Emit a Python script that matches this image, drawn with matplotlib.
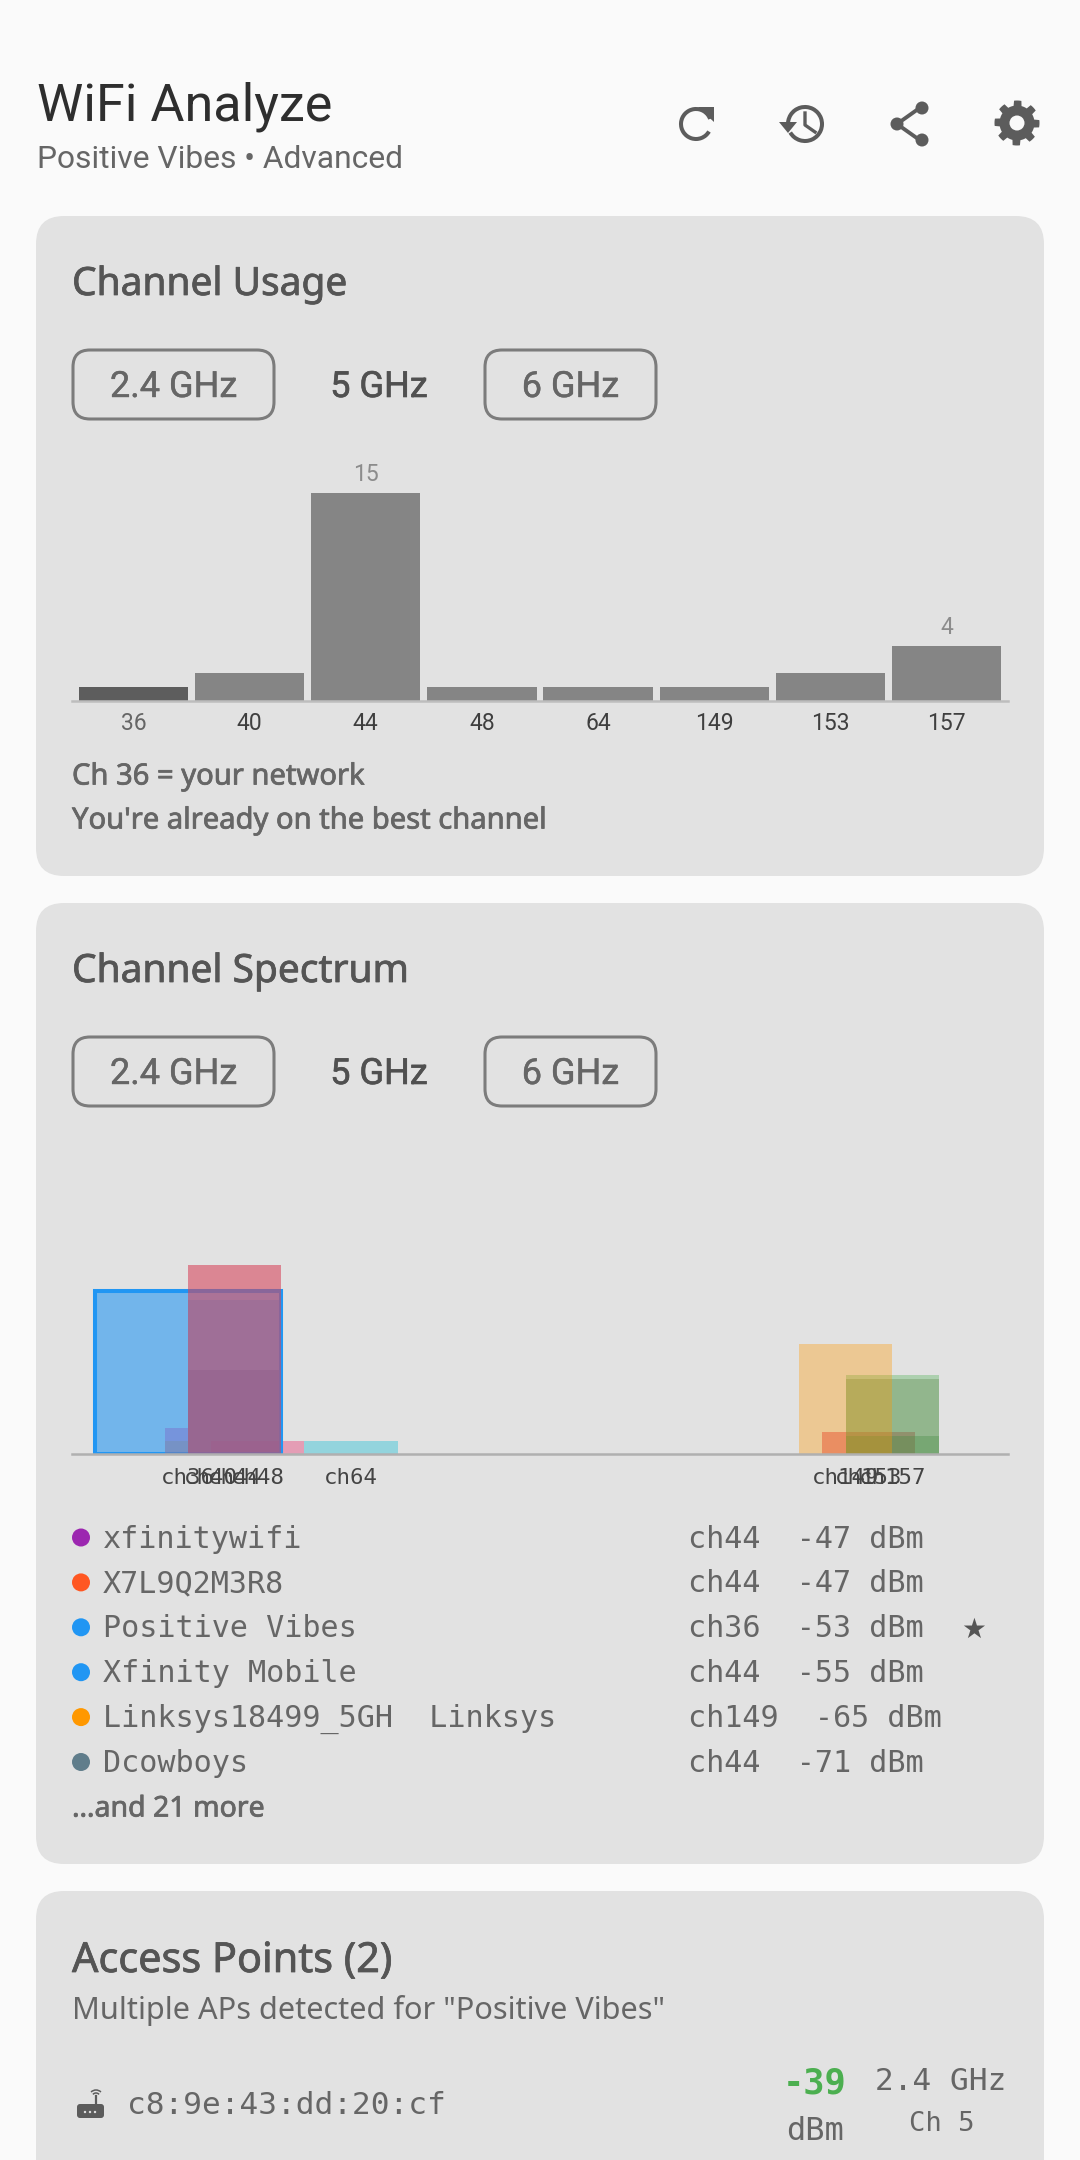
import numpy as np
import matplotlib
matplotlib.use("Agg")
import matplotlib.pyplot as plt
import matplotlib.patheffects as pe
from matplotlib.patches import FancyBboxPatch, Circle, Arc, Polygon

# usage chart
usage_channels = ["36", "40", "44", "48", "64", "149", "153", "157"]
usage_counts = [1, 2, 15, 1, 1, 1, 2, 4]

# spectrum chart, drawn in this order
spec_ticks = [36, 40, 44, 48, 64, 149, 153, 157]
spec_tick_labels = ["ch36", "ch40", "ch44", "ch48", "ch64", "ch149", "ch153", "ch157"]
spec_channel = [44, 44, 48, 64, 44, 36, 34, 34, 44, 44, 153, 157, 157, 157, 149]
spec_span = [16, 16, 16, 16, 16, 32, 4, 4, 16, 16, 16, 16, 16, 16, 16]
spec_dbm = [-71, -71, -87, -87, -55, -53, -84, -87, -47, -47, -85, -86, -73, -72, -65]
spec_colors = ["#607D8B", "#795548", "#E91E63", "#00BCD4", "#2196F3", "#2196F3", "#7E57C2", "#78909C",
               "#9C27B0", "#FF5722", "#E0405A", "#2E7D32", "#6B7451", "#4CAF50", "#FF9800"]
spec_alpha = [0.35, 0.25, 0.35, 0.35, 0.35, 0.58, 0.35, 0.35, 0.35, 0.35, 0.55, 0.35, 0.35, 0.35, 0.35]

# network list
ssids = ["xfinitywifi", "X7L9Q2M3R8", "Positive Vibes", "Xfinity Mobile", "Linksys18499_5GH  Linksys", "Dcowboys"]
ssid_channel = ["ch44", "ch44", "ch36", "ch44", "ch149", "ch44"]
ssid_signal = ["-47 dBm", "-47 dBm", "-53 dBm", "-55 dBm", "-65 dBm", "-71 dBm"]
ssid_dots = ["#9C27B0", "#FF5722", "#2196F3", "#2196F3", "#FF9800", "#607D8B"]

W, H = 1080, 2160
BG = "#FAFAFA"
CARD = "#E2E2E2"
SANS = "Roboto"
WIDE = "Noto Sans"
MONO = "DejaVu Sans Mono"
ICON = "#5C5C5C"


def add_axes_px(fig, left, top, right, bottom):
    return fig.add_axes([left / W, 1 - bottom / H, (right - left) / W, (bottom - top) / H])


def round_box(ax, x0, y0, x1, y1, radius, **kw):
    ax.add_patch(FancyBboxPatch((x0, y0), x1 - x0, y1 - y0,
                                boxstyle="round,pad=0,rounding_size=%d" % radius, **kw))


def heavy_text(ax, x, y, label, size, color="#555555", stroke=0.55, family=WIDE, **kw):
    #the fonts only come in regular here, a thin outline brings them to medium weight
    ax.text(x, y, label, fontsize=size, family=family, color=color,
            path_effects=[pe.withStroke(linewidth=stroke, foreground=color)], **kw)


def band_buttons(ax, top):
    #two outlined buttons and the selected one in the middle
    for x0, x1, label in [(73, 274, "2.4 GHz"), (485, 656, "6 GHz")]:
        round_box(ax, x0, top, x1, top + 69, 17, fc="none", ec="#7C7C7C", lw=2.2)
        heavy_text(ax, (x0 + x1) / 2, top + 37, label, 26, "#666666", 0.3, SANS, ha="center", va="center")
    heavy_text(ax, 379, top + 37, "5 GHz", 26, "#505050", 0.45, SANS, ha="center", va="center")


def draw_icons(ax):
    #refresh
    ax.add_patch(Arc((696, 124), 30, 30, theta1=-330, theta2=-20, ec=ICON, lw=2.9))
    ax.add_patch(Polygon([[698, 107], [714, 107], [714, 122]], fc=ICON, ec="none"))
    #history
    ax.add_patch(Arc((805, 124), 34, 34, theta1=-190, theta2=150, ec=ICON, lw=2.9))
    ax.add_patch(Polygon([[779, 122], [797, 122], [788, 133]], fc=ICON, ec="none"))
    ax.plot([805, 805, 815], [113, 125, 132], color=ICON, lw=2.4)
    #share
    ax.plot([921, 897, 921], [107, 124, 141], color=ICON, lw=2.8)
    for cx, cy in [(922, 108), (897, 124), (922, 140)]:
        ax.add_patch(Circle((cx, cy), 6.5, fc=ICON, ec="none"))
    #gear
    angle = np.linspace(0, 2 * np.pi, 96, endpoint=False)
    radius = np.where(np.cos(8 * angle) > 0, 22.5, 17.5)
    ax.add_patch(Polygon(np.column_stack([1017 + radius * np.cos(angle), 123 + radius * np.sin(angle)]),
                         fc=ICON, ec="none"))
    ax.add_patch(Circle((1017, 123), 7.5, fc=BG, ec="none"))


def draw_router(ax):
    round_box(ax, 77, 2104, 104, 2118, 3, fc=ICON, ec="none")
    for x in [85, 90, 95]:
        ax.add_patch(Circle((x, 2112), 1.2, fc=CARD, ec="none"))
    ax.plot([96, 96], [2096, 2104], color=ICON, lw=1.6)
    ax.add_patch(Arc((96, 2097), 8, 8, theta1=220, theta2=320, ec=ICON, lw=1.1))
    ax.add_patch(Arc((96, 2097), 14, 14, theta1=225, theta2=315, ec=ICON, lw=1.1))


def draw_usage(fig):
    ax = add_axes_px(fig, 72, 470, 1008, 701)
    ax.patch.set_alpha(0)
    x = np.arange(len(usage_counts))
    colors = ["#5D5D5D"] + ["#858585"] * (len(usage_counts) - 1)
    ax.bar(x, usage_counts, width=0.94, color=colors)
    ax.set_xlim(-0.53, 7.53)
    ax.set_ylim(0, 231 / 13.87)
    #only the tallest and the last one carry a value
    for i in [2, 7]:
        ax.text(x[i], usage_counts[i] + 0.5, str(usage_counts[i]), ha="center", va="bottom",
                fontsize=16.5, family=SANS, color="#8C8C8C")
    ax.set_xticks(x)
    ax.set_xticklabels(usage_channels, fontsize=16.5, family=SANS, color="#3F3F3F")
    ax.get_xticklabels()[0].set_color("#666666")
    ax.tick_params(axis="x", length=0, pad=8)
    ax.set_yticks([])
    for side in ["top", "left", "right"]:
        ax.spines[side].set_visible(False)
    ax.spines["bottom"].set_color("#BDBDBD")
    ax.spines["bottom"].set_linewidth(1.8)


def draw_spectrum(fig):
    ax = add_axes_px(fig, 72, 1140, 1008, 1454)
    ax.patch.set_alpha(0)
    floor = -90
    for ch, span, dbm, color, alpha in zip(spec_channel, spec_span, spec_dbm, spec_colors, spec_alpha):
        if span == 32:
            ax.bar(ch, dbm - floor, bottom=floor, width=span, color=matplotlib.colors.to_rgba(color, alpha),
                   edgecolor=color, linewidth=2.9)
        else:
            ax.bar(ch, dbm - floor, bottom=floor, width=span, color=color, alpha=alpha)
    ax.set_xlim(16.07, 176.9)
    ax.set_ylim(floor, floor + 314 / 4.40)
    ax.set_xticks(spec_ticks)
    ax.set_xticklabels(spec_tick_labels, fontsize=16.1, family=MONO, color="#444444")
    ax.tick_params(axis="x", length=0, pad=10)
    ax.set_yticks([])
    for side in ["top", "left", "right"]:
        ax.spines[side].set_visible(False)
    ax.spines["bottom"].set_color("#B0B0B0")
    ax.spines["bottom"].set_linewidth(1.8)


def main():
    fig = plt.figure(figsize=(W / 100, H / 100), dpi=100, facecolor=BG)
    page = fig.add_axes([0, 0, 1, 1])
    page.set_xlim(0, W)
    page.set_ylim(H, 0)
    page.axis("off")

    page.text(37, 120, "WiFi Analyze", fontsize=37.5, family=SANS, color="#2E2E2E")
    page.text(37, 168, "Positive Vibes \u2022 Advanced", fontsize=22.9, family=SANS, color="#666666")
    draw_icons(page)

    for top, bottom in [(216, 876), (903, 1864), (1891, 2240)]:
        round_box(page, 36, top, 1044, bottom, 28, fc=CARD, ec="none")

    #channel usage card
    heavy_text(page, 72, 295, "Channel Usage", 28)
    band_buttons(page, 350)
    heavy_text(page, 72, 777, "Ch 36 = your network", 21, "#666666", va="center")
    heavy_text(page, 72, 821, "You're already on the best channel", 21, "#666666", va="center")

    #channel spectrum card
    heavy_text(page, 72, 982, "Channel Spectrum", 28)
    band_buttons(page, 1037)
    for i in range(len(ssids)):
        y = 1537.5 + 44.9 * i
        page.add_patch(Circle((81, y), 9, fc=ssid_dots[i], ec="none"))
        page.text(103, y + 1.5, ssids[i], va="center", fontsize=21.7, family=MONO, color="#666666")
        page.text(688, y + 1.5, ssid_channel[i] + "  " + ssid_signal[i], va="center", fontsize=21.7, family=MONO, color="#666666")
    page.text(974, 1630, "\u2605", ha="center", va="center", fontsize=20, family="DejaVu Sans", color="#555555")
    heavy_text(page, 72, 1809, "\u2026and 21 more", 20.5, "#666666", va="center")

    #access points card
    heavy_text(page, 72, 1972, "Access Points (2)", 29.8)
    page.text(72, 2019, "Multiple APs detected for \"Positive Vibes\"", fontsize=22.1, family=WIDE, color="#666666")
    draw_router(page)
    page.text(127, 2105, "c8:9e:43:dd:20:cf", va="center", fontsize=22.4, family=MONO, color="#666666")
    page.text(815, 2083, "-39", ha="center", va="center", fontsize=25.5, family=MONO, weight="bold", color="#4CAF50")
    page.text(815, 2131, "dBm", ha="center", va="center", fontsize=23, family=MONO, color="#666666")
    page.text(941, 2082, "2.4 GHz", ha="center", va="center", fontsize=22.4, family=MONO, color="#666666")
    page.text(942, 2124, "Ch 5", ha="center", va="center", fontsize=19.5, family=MONO, color="#666666")

    draw_usage(fig)
    draw_spectrum(fig)
    fig.savefig("out.png", dpi=100, facecolor=BG)


if __name__ == "__main__":
    main()
